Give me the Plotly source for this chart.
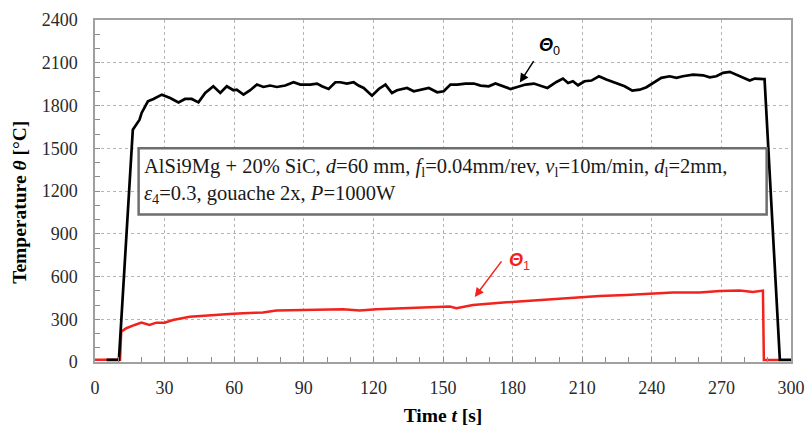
import plotly.graph_objects as go

# Surface temperature Θ0 (black) and body temperature Θ1 (red) over time
t_theta0 = [5, 10.3, 16.3, 19.2, 20.1, 22.8, 25.2, 28.8, 32.4, 36, 38.8, 41.7, 44.6, 47.5,
            51, 54, 56.8, 59.7, 61.1, 64, 66.9, 69.8, 72.6, 75.5, 78.4, 82, 85.6, 88.5,
            92.8, 95.7, 97.8, 100.7, 103.6, 105.7, 108.6, 111.5, 113.6, 115.8, 119.4,
            122.3, 125.2, 128, 130.2, 134.5, 137.4, 140.3, 143.9, 147.5, 150.3, 153.2,
            156.1, 159.7, 163.3, 166.2, 169.7, 172.6, 176.2, 179.1, 182, 185.6, 189.2,
            192, 195, 198.9, 201.7, 203.9, 206, 208.2, 211, 214, 217.2, 220.4, 224.7,
            228.3, 231.6, 234.8, 237.7, 240.5, 244.1, 247.7, 250.6, 253.4, 257.8, 262.1,
            265, 267.8, 270.7, 273.6, 276.5, 279.3, 282.2, 284.4, 287.7, 288.6, 295.2, 300]
theta0 = [15, 15, 1630, 1700, 1748, 1829, 1846, 1876, 1853, 1822, 1846, 1846, 1822, 1888,
          1935, 1888, 1935, 1907, 1911, 1876, 1907, 1947, 1930, 1940, 1930, 1940, 1963, 1947,
          1947, 1954, 1935, 1916, 1963, 1963, 1954, 1963, 1940, 1923, 1869,
          1916, 1947, 1888, 1907, 1923, 1900, 1911, 1923, 1893, 1900, 1947,
          1947, 1954, 1954, 1940, 1935, 1954, 1935, 1916, 1930, 1947, 1954,
          1940, 1923, 1965, 1989, 1958, 1970, 1942, 1970, 1975, 2005, 1982, 1958,
          1935, 1904, 1911, 1928, 1958, 1994, 2005, 1994, 2005, 2017, 2012,
          1998, 2005, 2029, 2036, 2017, 1998, 1975, 1989, 1989, 1985, 15, 15]

t_theta1 = [0, 10.8, 11.3, 13.5, 17.1, 20, 23.5, 26.4, 30, 33.6, 40.8, 49.4, 58, 63.8,
            72.4, 78.2, 86.8, 95.4, 101.1, 106.9, 114.1, 121.3, 129.9, 138.5, 147.1,
            152.9, 155.8, 162.9, 177.3, 191.7, 206, 217.5, 229, 240.5, 249.1, 260.6,
            269.3, 277.9, 283.6, 287.9, 288.3, 295]
theta1 = [15, 15, 213, 237, 260, 276, 260, 276, 276, 295, 318, 330, 337, 342,
          347, 361, 365, 365, 370, 370, 361, 370, 375, 379, 384,
          389, 377, 400, 419, 436, 448, 464, 471, 483, 487, 487,
          499, 501, 492, 501, 14, 14]

x_ticks = list(range(0, 301, 30))
y_ticks = list(range(0, 2401, 300))

serif = "Liberation Serif, Times New Roman, serif"
red = "#f2221c"

fig = go.Figure()
fig.add_trace(go.Scatter(x=t_theta1, y=theta1, mode="lines",
                         line=dict(color=red, width=2.5), showlegend=False))
fig.add_trace(go.Scatter(x=t_theta0, y=theta0, mode="lines",
                         line=dict(color="black", width=2.7), showlegend=False))

# Parameter box
fig.add_shape(type="rect", xref="x", yref="y", x0=18.8, x1=289.5, y0=1035, y1=1500,
              fillcolor="white", line=dict(color="#6e6e6e", width=2.5), layer="above")
fig.add_annotation(
    xref="x", yref="y", x=20.3, y=1268, xanchor="left", yanchor="middle", showarrow=False,
    align="left",
    text=("AlSi9Mg + 20% SiC, <i>d</i>=60 mm, <i>f</i><sub>l</sub>=0.04mm/rev, "
          "<i>v</i><sub>l</sub>=10m/min, <i>d</i><sub>l</sub>=2mm,<br>"
          "<i>ε</i><sub>4</sub>=0.3, gouache 2x, <i>P</i>=1000W"),
    font=dict(family=serif, size=20.5, color="#1a1a1a"))

# Curve labels with arrows
fig.add_annotation(xref="x", yref="y", axref="x", ayref="y", x=183.1, y=1961,
                   ax=189.5, ay=2122, showarrow=True, arrowhead=2, arrowsize=1.2,
                   arrowwidth=1.5, arrowcolor="black", text="")
fig.add_annotation(xref="x", yref="y", x=196, y=2214, showarrow=False,
                   text="<b><i>Θ</i></b><sub>0</sub>",
                   font=dict(family="Liberation Sans, Arial, sans-serif", size=18, color="black"))
fig.add_annotation(xref="x", yref="y", axref="x", ayref="y", x=163.7, y=457,
                   ax=175.7, ay=717, showarrow=True, arrowhead=2, arrowsize=1.2,
                   arrowwidth=1.5, arrowcolor=red, text="")
fig.add_annotation(xref="x", yref="y", x=183, y=703, showarrow=False,
                   text="<b><i>Θ</i></b><sub>1</sub>",
                   font=dict(family="Liberation Sans, Arial, sans-serif", size=18, color=red))

# Y-axis title placed as a rotated annotation
fig.add_annotation(xref="paper", yref="paper", x=-0.108, y=0.468, showarrow=False,
                   xanchor="center", yanchor="middle",
                   textangle=-90, text="<b>Temperature <i>θ</i> [°C]</b>",
                   font=dict(family=serif, size=19.5, color="black"))

grid = dict(showgrid=True, gridcolor="#b4b4b4", griddash="dot", gridwidth=1,
            showline=True, linecolor="#a0a0a0", linewidth=1.5, mirror=True,
            zeroline=False, ticks="inside", ticklen=5, tickcolor="#8c8c8c",
            automargin=False,
            tickfont=dict(family=serif, size=18, color="#2a2a2a"))

fig.update_xaxes(range=[0, 300], tickvals=x_ticks, ticklabelstandoff=9,
                 minor=dict(dtick=10, ticks="inside", ticklen=5, tickcolor="#8c8c8c", showgrid=False),
                 title=dict(text="<b>Time <i>t</i> [s]</b>",
                            font=dict(family=serif, size=19.5, color="black")),
                 **grid)
fig.update_yaxes(range=[0, 2400], tickvals=y_ticks, ticklabelstandoff=12,
                 minor=dict(dtick=100, ticks="inside", ticklen=5, tickcolor="#8c8c8c", showgrid=False),
                 **grid)

fig.update_layout(width=807, height=426, margin=dict(l=95, r=16, t=20, b=64),
                  plot_bgcolor="white", paper_bgcolor="white")

fig.write_html("out.html")
